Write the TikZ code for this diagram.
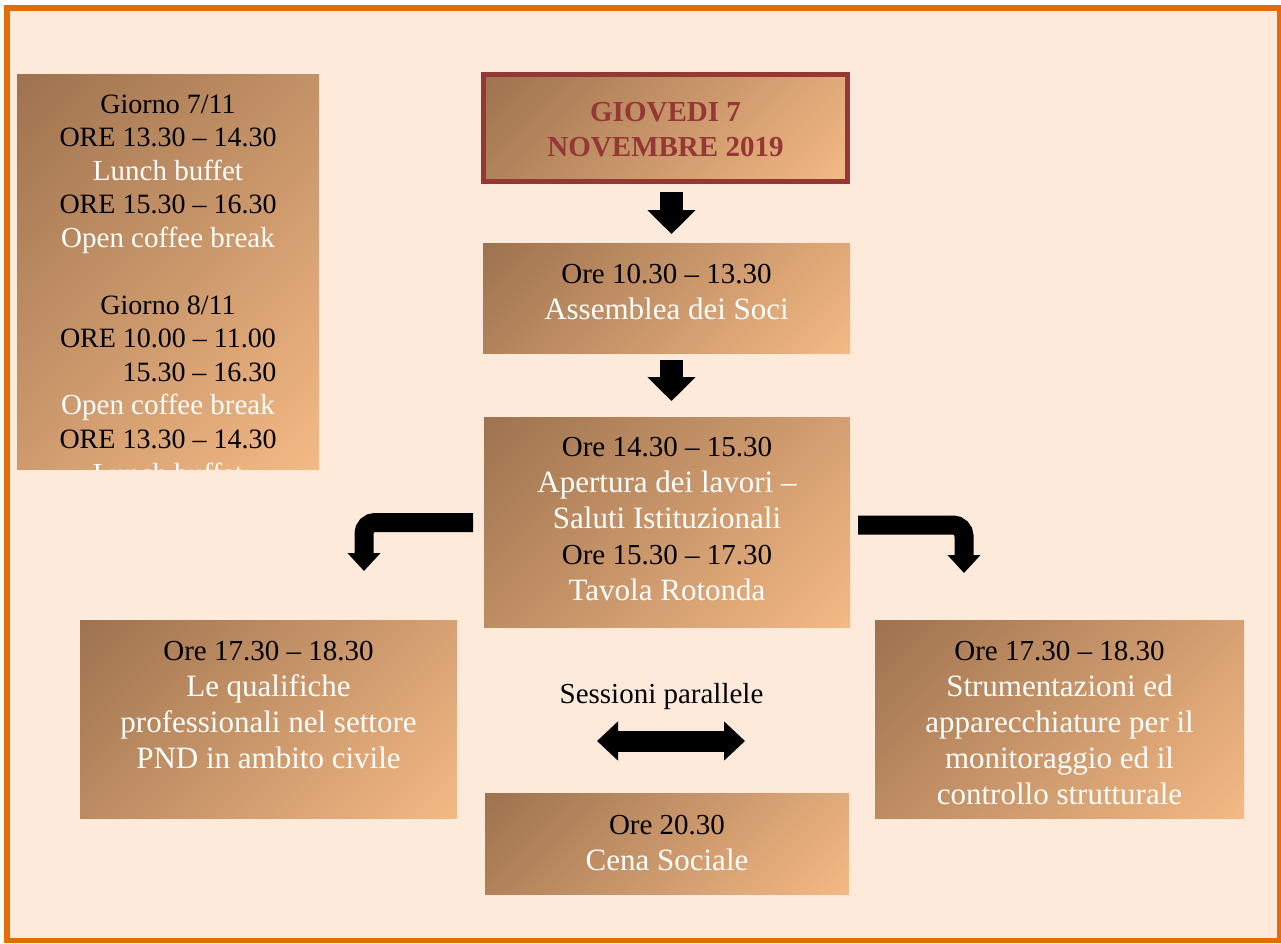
\documentclass[tikz,border=0pt]{standalone}
\usepackage{fontspec}
\setmainfont{Liberation Serif}
\usetikzlibrary{arrows.meta}
\definecolor{bgpeach}{RGB}{253,234,218}
\definecolor{frameorange}{RGB}{227,108,9}
\definecolor{gdark}{RGB}{150,108,74}
\definecolor{glight}{RGB}{252,192,138}
\definecolor{titlered}{RGB}{149,55,53}
\pgfdeclareverticalshading{diagsh}{100bp}{color(0bp)=(glight); color(8bp)=(glight); color(92bp)=(gdark); color(100bp)=(gdark)}
\newcommand{\whitetxt}[1]{{\fontsize{31}{36}\selectfont\textcolor{white}{#1}}}
\newcommand{\whitesmall}[1]{{\fontsize{29}{33.5}\selectfont\textcolor{white}{#1}}}
\tikzset{
  gbox/.style={rectangle, inner sep=0pt, shading=diagsh, shading angle=45},
  btext/.style={anchor=north, inner sep=0pt, align=center, text=black, font=\fontsize{29}{36}\selectfont},
  ltext/.style={anchor=north, inner sep=0pt, align=center, text=black, font=\fontsize{28}{33.5}\selectfont},
  downarr/.style={line width=23pt, -{Triangle[width=47pt,length=24pt]}},
  bentarr/.style={line width=19pt, rounded corners=11pt, -{Triangle[width=32pt,length=18pt]}},
  dblarr/.style={line width=21pt, {Triangle[width=38pt,length=21pt]}-{Triangle[width=38pt,length=21pt]}}
}
\begin{document}
\begin{tikzpicture}[x=1pt,y=-1pt]
\useasboundingbox (0,0) rectangle (1281,944);
\fill[white] (0,0) rectangle (1281,944);
\draw[frameorange, fill=bgpeach, line width=5.5pt] (7,8) rectangle (1279.5,940.5);

% left info box
\node[gbox, minimum width=302pt, minimum height=394pt] (lbox) at (168,272) {};
\begin{scope}
\clip (17,75) rectangle (319,469);
\node[ltext] (ltxt) at (168,94.5) {Giorno 7/11\\ORE 13.30 -- 14.30\\\whitesmall{Lunch buffet}\\ORE 15.30 -- 16.30\\\whitesmall{Open coffee break}\\[33.5pt]Giorno 8/11\\ORE 10.00 -- 11.00\\\phantom{ORE }15.30 -- 16.30\\\whitesmall{Open coffee break}\\ORE 13.30 -- 14.30\\[2pt]\whitesmall{Lunch buffet}};
\end{scope}

% title
\node[gbox, draw=titlered, line width=5pt, minimum width=364pt, minimum height=107pt] (title) at (665.5,128.5) {};
\node[anchor=north, inner sep=0pt, align=center, text=titlered, font=\bfseries\fontsize{29}{35}\selectfont] (titletxt) at (665.5,102.5) {GIOVEDI 7\\NOVEMBRE 2019};

% box 2
\node[gbox, minimum width=367pt, minimum height=110pt] (box2) at (666.5,298) {};
\node[btext] (box2txt) at (666.5,264) {Ore 10.30 -- 13.30\\\whitetxt{Assemblea dei Soci}};

% box 3
\node[gbox, minimum width=366pt, minimum height=210pt] (box3) at (667,522) {};
\node[btext] (box3txt) at (667,437) {Ore 14.30 -- 15.30\\\whitetxt{Apertura dei lavori --}\\\whitetxt{Saluti Istituzionali}\\Ore 15.30 -- 17.30\\\whitetxt{Tavola Rotonda}};

% left bottom box
\node[gbox, minimum width=377pt, minimum height=198pt] (boxL) at (268.5,719) {};
\node[btext] (boxLtxt) at (268.5,641) {Ore 17.30 -- 18.30\\\whitetxt{Le qualifiche}\\\whitetxt{professionali nel settore}\\\whitetxt{PND in ambito civile}};

% right box
\node[gbox, minimum width=369pt, minimum height=198pt] (boxR) at (1059.5,719) {};
\node[btext] (boxRtxt) at (1059.5,641) {Ore 17.30 -- 18.30\\\whitetxt{Strumentazioni ed}\\\whitetxt{apparecchiature per il}\\\whitetxt{monitoraggio ed il}\\\whitetxt{controllo strutturale}};

% bottom box
\node[gbox, minimum width=364pt, minimum height=101pt] (boxB) at (667,843.5) {};
\node[btext] (boxBtxt) at (667,815) {Ore 20.30\\\whitetxt{Cena Sociale}};

% sessioni parallele
\node[anchor=base, inner sep=0pt, font=\fontsize{29}{34}\selectfont] (sess) at (661.5,703) {Sessioni parallele};

% arrows
\coordinate (a1s) at (671.5,192);
\coordinate (a1e) at (671.5,234);
\coordinate (a2s) at (671.5,360);
\coordinate (a2e) at (671.5,401);
\draw[downarr] (a1s) -- (a1e);
\draw[downarr] (a2s) -- (a2e);

\coordinate (bl1) at (473,522.5);
\coordinate (bl2) at (364,522.5);
\coordinate (bl3) at (364,571);
\draw[bentarr] (bl1) -- (bl2) -- (bl3);

\coordinate (br1) at (858,525);
\coordinate (br2) at (964,525);
\coordinate (br3) at (964,573);
\draw[bentarr] (br1) -- (br2) -- (br3);

\coordinate (d1) at (597,741);
\coordinate (d2) at (745,741);
\draw[dblarr] (d1) -- (d2);
\end{tikzpicture}
\end{document}
